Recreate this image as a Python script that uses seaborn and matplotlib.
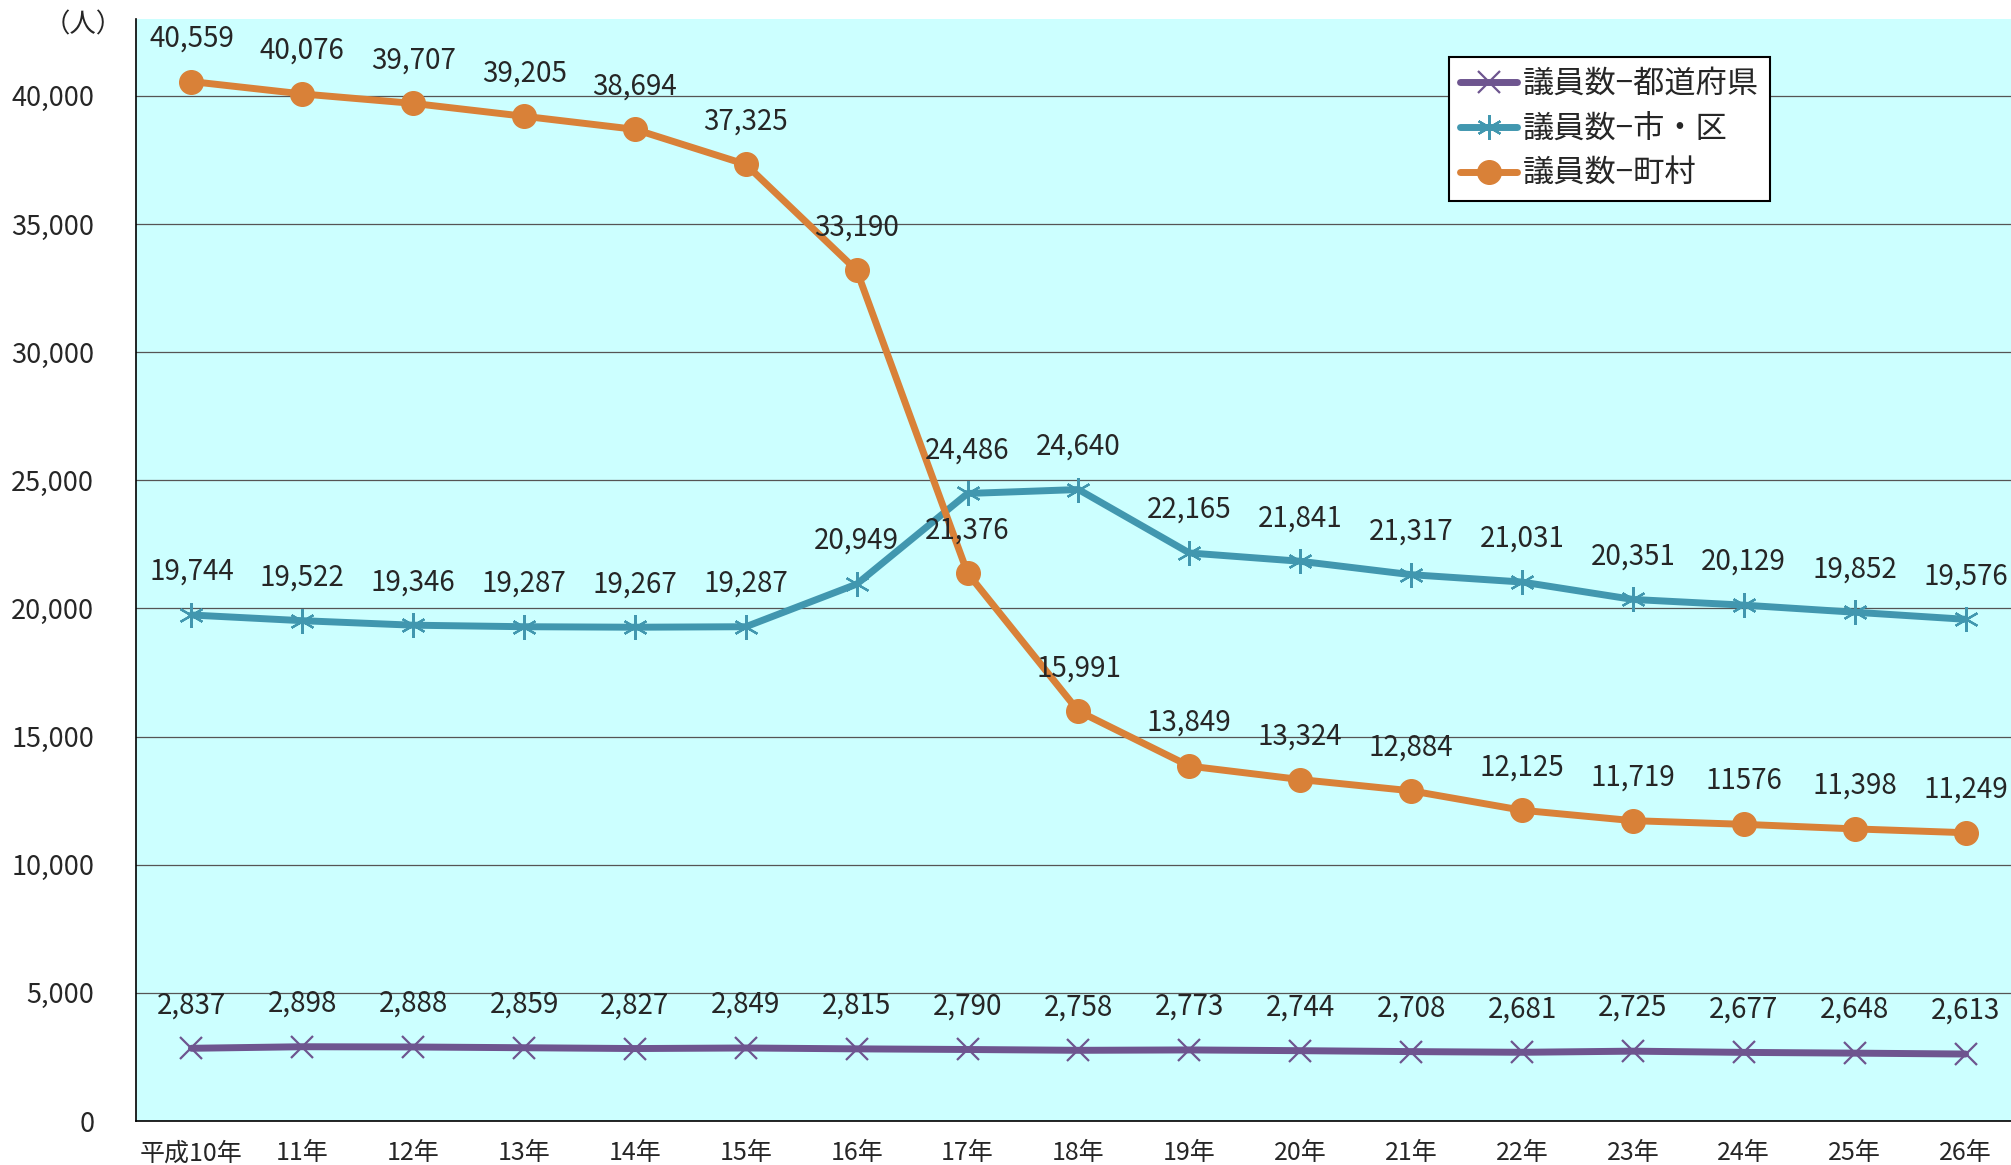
"""Council members by year: prefecture, city/ward, town/village"""

import matplotlib
matplotlib.use("Agg")
import matplotlib.pyplot as plt
import numpy as np
import pandas as pd
import seaborn as sns

years = ["平成10年", "11年", "12年", "13年", "14年", "15年", "16年", "17年", "18年",
         "19年", "20年", "21年", "22年", "23年", "24年", "25年", "26年"]
prefecture = [2837, 2898, 2888, 2859, 2827, 2849, 2815, 2790, 2758,
              2773, 2744, 2708, 2681, 2725, 2677, 2648, 2613]
city_ward = [19744, 19522, 19346, 19287, 19267, 19287, 20949, 24486, 24640,
             22165, 21841, 21317, 21031, 20351, 20129, 19852, 19576]
town_village = [40559, 40076, 39707, 39205, 38694, 37325, 33190, 21376, 15991,
                13849, 13324, 12884, 12125, 11719, 11576, 11398, 11249]
series_names = ["議員数−都道府県", "議員数−市・区", "議員数−町村"]

sns.set_theme(style="white")
plt.rcParams["font.family"] = ["Noto Sans CJK JP", "DejaVu Sans"]

fig = plt.figure(figsize=(20.11, 11.65), dpi=100)
ax = fig.add_axes([136 / 2011, 1 - 1121 / 1165, 1 - 136 / 2011, (1121 - 19) / 1165])
ax.set_facecolor("#CCFFFF")

x = np.arange(len(years))
styles = [
    (prefecture, "#6E558F", "x", 16, 1.6),
    (city_ward, "#4197AF", (6, 2, 0), 18, 1.6),
    (town_village, "#D98138", "o", 17, 1),
]
for (vals, color, marker, ms, mew), name in zip(styles, series_names):
    df = pd.DataFrame({"x": x, "y": vals})
    sns.lineplot(data=df, x="x", y="y", ax=ax, color=color, lw=5, marker=marker,
                 markersize=ms, markeredgewidth=mew, markeredgecolor=color,
                 label=name, solid_capstyle="round", zorder=3)
    texts = [f"{v:,}" for v in vals]
    if vals is town_village:
        texts[14] = "11576"
    for xi, v, t in zip(x, vals, texts):
        ax.annotate(t, (xi, v), xytext=(0, 31), textcoords="offset points",
                    ha="center", va="center", fontsize=20, annotation_clip=False,
                    zorder=5)

ax.set_xlim(-0.5, 16.41)
ax.set_ylim(0, 43000)
ax.set_yticks(np.arange(0, 40001, 5000))
ax.set_yticklabels([f"{v:,}" for v in range(0, 40001, 5000)], fontsize=19.5)
ax.yaxis.grid(True, color="#555555", lw=0.9)
ax.set_axisbelow(True)
ax.set_xticks(x)
ax.set_xticklabels(years, fontsize=18)
ax.set_xticks(np.arange(0.5, 16, 1), minor=True)
ax.tick_params(axis="x", which="major", length=0, pad=14)
ax.tick_params(axis="x", which="minor", length=9, direction="in", color="#333333", width=1)
ax.tick_params(axis="y", length=0, pad=30)
ax.set_xlabel("")
ax.set_ylabel("")
for side in ["top", "right"]:
    ax.spines[side].set_visible(False)
for side in ["left", "bottom"]:
    ax.spines[side].set_color("black")
    ax.spines[side].set_linewidth(1.2)

fig.text(83 / 2011, 1 - 25 / 1165, "（人）", ha="center", va="center", fontsize=19)

leg = ax.legend(loc="upper left", bbox_to_anchor=(0.7005, 0.9655), borderaxespad=0,
                fontsize=22.5, frameon=True, fancybox=False, edgecolor="black",
                facecolor="white", framealpha=1, handlelength=1.8, handletextpad=0.2,
                borderpad=0.35, labelspacing=0.42)
leg.get_frame().set_linewidth(1.5)

fig.savefig("out.png", dpi=100)
plt.close(fig)
